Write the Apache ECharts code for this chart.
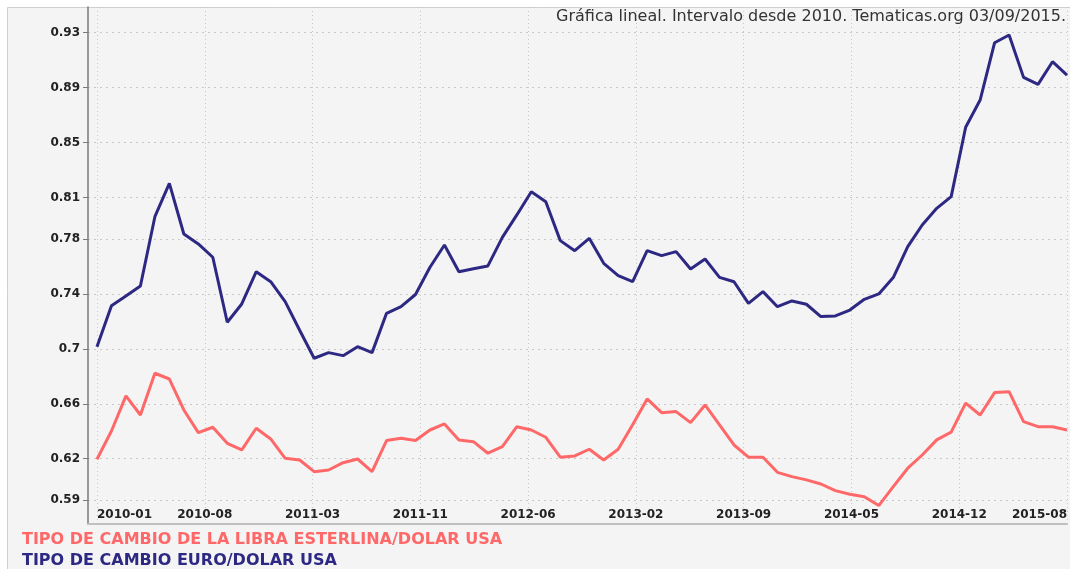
<!DOCTYPE html>
<html>
<head>
<meta charset="utf-8">
<script src="https://cdn.jsdelivr.net/npm/echarts@6/dist/echarts.min.js"></script>
<style>html,body{margin:0;padding:0;background:#fff}#c{width:1070px;height:569px}</style>
</head>
<body>
<div id="c"></div>
<script>
const months = ['2010-01','2010-02','2010-03','2010-04','2010-05','2010-06','2010-07','2010-08','2010-09','2010-10','2010-11','2010-12',
'2011-01','2011-02','2011-03','2011-04','2011-05','2011-06','2011-07','2011-08','2011-09','2011-10','2011-11','2011-12',
'2012-01','2012-02','2012-03','2012-04','2012-05','2012-06','2012-07','2012-08','2012-09','2012-10','2012-11','2012-12',
'2013-01','2013-02','2013-03','2013-04','2013-05','2013-06','2013-07','2013-08','2013-09','2013-10','2013-11','2013-12',
'2014-01','2014-02','2014-03','2014-04','2014-05','2014-06','2014-07','2014-08','2014-09','2014-10','2014-11','2014-12',
'2015-01','2015-02','2015-03','2015-04','2015-05','2015-06','2015-07','2015-08'];

const libraDolar = [0.6196,0.6402,0.6657,0.6518,0.6822,0.6780,0.6555,0.6390,0.6429,0.6312,0.6264,0.6422,
0.6344,0.6203,0.6191,0.6106,0.6118,0.6171,0.6198,0.6106,0.6332,0.6349,0.6332,0.6409,
0.6453,0.6337,0.6324,0.6240,0.6288,0.6433,0.6409,0.6356,0.6211,0.6220,0.6269,0.6191,
0.6269,0.6448,0.6635,0.6535,0.6543,0.6463,0.6591,0.6446,0.6300,0.6211,0.6211,0.6101,
0.6070,0.6046,0.6016,0.5968,0.5941,0.5924,0.5859,0.5997,0.6131,0.6227,0.6337,0.6393,
0.6604,0.6518,0.6681,0.6688,0.6470,0.6433,0.6433,0.6409];

const euroDolar = [0.7015,0.7314,0.7384,0.7457,0.7961,0.8204,0.7835,0.7763,0.7666,0.7193,0.7326,0.7561,
0.7488,0.7343,0.7135,0.6931,0.6972,0.6950,0.7015,0.6972,0.7258,0.7306,0.7395,0.7593,
0.7755,0.7561,0.7583,0.7603,0.7811,0.7974,0.8143,0.8070,0.7787,0.7714,0.7804,0.7622,
0.7532,0.7488,0.7714,0.7678,0.7707,0.7581,0.7653,0.7520,0.7488,0.7331,0.7416,0.7306,
0.7348,0.7324,0.7234,0.7239,0.7282,0.7360,0.7399,0.7518,0.7743,0.7901,0.8022,0.8107,
0.8612,0.8810,0.9227,0.9283,0.8975,0.8924,0.9089,0.8992];

const yTickValues = [0.59,0.62,0.66,0.7,0.74,0.78,0.81,0.85,0.89,0.93];
const xTickLabels = ['2010-01','2010-08','2011-03','2011-11','2012-06','2013-02','2013-09','2014-05','2014-12','2015-08'];

const seriesNames = ['TIPO DE CAMBIO DE LA LIBRA ESTERLINA/DOLAR USA','TIPO DE CAMBIO EURO/DOLAR USA'];
const titleText = 'Gráfica lineal. Intervalo desde 2010. Tematicas.org 03/09/2015.';

const lastIdx = months.length - 1;
const nDiv = xTickLabels.length - 1;
const xTickPos = xTickLabels.map((_, k) => k * lastIdx / nDiv);

const toPairs = arr => arr.map((v, i) => [i, v]);

const FONT = 'DejaVu Sans';
const RED = '#ff6868';
const BLUE = '#2d2983';

const chart = echarts.init(document.getElementById('c'), null, {renderer: 'canvas'});
chart.setOption({
  backgroundColor: '#ffffff',
  animation: false,
  graphic: [{
    type: 'rect', z: -10, silent: true,
    shape: {x: 7.5, y: 7.5, width: 1080, height: 580},
    style: {fill: '#f4f4f4', stroke: '#cfcfcf', lineWidth: 1}
  }],
  title: {
    text: titleText,
    right: 4, top: 9, padding: 0,
    textStyle: {fontFamily: FONT, fontSize: 16, fontWeight: 'normal', color: '#333'}
  },
  legend: {
    orient: 'vertical', left: 17, top: 532, height: 60, padding: 0, itemGap: 5,
    itemWidth: 0, itemHeight: 0, icon: 'rect', selectedMode: false,
    textStyle: {fontFamily: FONT, fontSize: 16, fontWeight: 'bold'},
    data: [
      {name: seriesNames[0], textStyle: {color: RED}},
      {name: seriesNames[1], textStyle: {color: BLUE}}
    ]
  },
  grid: {left: 88, right: 0, top: 7, bottom: 45},
  xAxis: {
    type: 'value', min: -0.62, max: lastIdx,
    axisLine: {show: true, lineStyle: {color: '#c0c0c0', width: 2}},
    axisTick: {show: false, customValues: xTickPos},
    axisLabel: {
      customValues: xTickPos, inside: true, margin: 3,
      formatter: v => xTickLabels[Math.round(v * nDiv / lastIdx)],
      fontFamily: FONT, fontSize: 12, fontWeight: 'bold', color: '#222',
      alignMinLabel: 'left', alignMaxLabel: 'right'
    },
    splitLine: {show: true, lineStyle: {color: '#c8c8c8', type: [1, 3], width: 1}}
  },
  yAxis: {
    type: 'value', min: 0.5725, max: 0.9487,
    axisLine: {show: true, onZero: false, lineStyle: {color: '#7a7a7a', width: 1.5}},
    axisTick: {show: true, length: 5, customValues: yTickValues, lineStyle: {color: '#7a7a7a'}},
    axisLabel: {
      customValues: yTickValues, margin: 8,
      formatter: v => String(v),
      fontFamily: FONT, fontSize: 12, fontWeight: 'bold', color: '#222'
    },
    splitLine: {show: true, lineStyle: {color: '#c8c8c8', type: [2, 4], width: 1}}
  },
  series: [
    {name: seriesNames[0], type: 'line', data: toPairs(libraDolar), showSymbol: false, symbol: 'none',
     lineStyle: {color: RED, width: 3}, itemStyle: {color: RED}},
    {name: seriesNames[1], type: 'line', data: toPairs(euroDolar), showSymbol: false, symbol: 'none',
     lineStyle: {color: BLUE, width: 3}, itemStyle: {color: BLUE}}
  ]
});
</script>
</body>
</html>
